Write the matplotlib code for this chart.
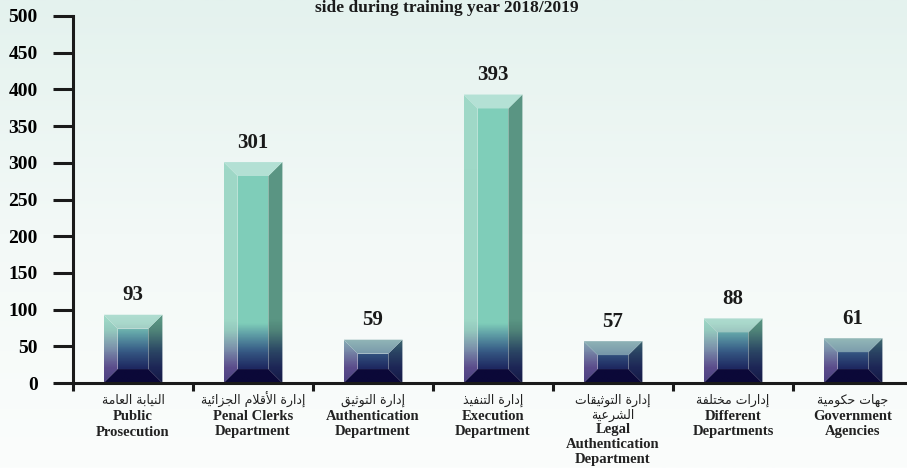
import numpy as np
import matplotlib
matplotlib.use("Agg")
import matplotlib.pyplot as plt
from matplotlib.patches import Polygon
from matplotlib.colors import LinearSegmentedColormap, Normalize

# data
values = [93, 301, 59, 393, 57, 88, 61]
labels_ar = [["النيابة العامة"], ["إدارة الأقلام الجزائية"], ["إدارة التوثيق"], ["إدارة التنفيذ"],
             ["إدارة التوثيقات", "الشرعية"], ["إدارات مختلفة"], ["جهات حكومية"]]
labels_en = [["Public", "Prosecution"], ["Penal Clerks", "Department"], ["Authentication", "Department"],
             ["Execution", "Department"], ["Legal", "Authentication", "Department"],
             ["Different", "Departments"], ["Government", "Agencies"]]
yticks = list(range(0, 501, 50))
title = "side during training year 2018/2019"

SERIF = "Liberation Serif"

# ---- minimal arabic shaping (matplotlib has no complex text layout) ----
BASES = {
    'ء': (0xFE80, 1), 'آ': (0xFE81, 2), 'أ': (0xFE83, 2), 'ؤ': (0xFE85, 2), 'إ': (0xFE87, 2),
    'ئ': (0xFE89, 4), 'ا': (0xFE8D, 2), 'ب': (0xFE8F, 4), 'ة': (0xFE93, 2), 'ت': (0xFE95, 4),
    'ث': (0xFE99, 4), 'ج': (0xFE9D, 4), 'ح': (0xFEA1, 4), 'خ': (0xFEA5, 4), 'د': (0xFEA9, 2),
    'ذ': (0xFEAB, 2), 'ر': (0xFEAD, 2), 'ز': (0xFEAF, 2), 'س': (0xFEB1, 4), 'ش': (0xFEB5, 4),
    'ص': (0xFEB9, 4), 'ض': (0xFEBD, 4), 'ط': (0xFEC1, 4), 'ظ': (0xFEC5, 4), 'ع': (0xFEC9, 4),
    'غ': (0xFECD, 4), 'ف': (0xFED1, 4), 'ق': (0xFED5, 4), 'ك': (0xFED9, 4), 'ل': (0xFEDD, 4),
    'م': (0xFEE1, 4), 'ن': (0xFEE5, 4), 'ه': (0xFEE9, 4), 'و': (0xFEED, 2), 'ى': (0xFEEF, 2),
    'ي': (0xFEF1, 4),
}
LAM_ALEF = {'آ': 0xFEF5, 'أ': 0xFEF7, 'إ': 0xFEF9, 'ا': 0xFEFB}


def shape_ar(text):
    toks = []
    i = 0
    while i < len(text):
        c = text[i]
        if c == 'ل' and i + 1 < len(text) and text[i + 1] in LAM_ALEF:
            toks.append(('LA', LAM_ALEF[text[i + 1]]))
            i += 2
        else:
            toks.append((c, None))
            i += 1

    def nforms(t):
        if t[0] == 'LA':
            return 2
        return BASES[t[0]][1] if t[0] in BASES else 0

    out = []
    for k, t in enumerate(toks):
        nf = nforms(t)
        if nf == 0:
            out.append(t[0])
            continue
        base = t[1] if t[0] == 'LA' else BASES[t[0]][0]
        prev_j = k > 0 and nforms(toks[k - 1]) == 4
        next_j = nf == 4 and k + 1 < len(toks) and nforms(toks[k + 1]) >= 2
        if nf == 1:
            idx = 0
        elif nf == 2:
            idx = 1 if prev_j else 0
        else:
            idx = {(False, False): 0, (True, False): 1, (False, True): 2, (True, True): 3}[(prev_j, next_j)]
        out.append(chr(base + idx))
    return ''.join(reversed(out))


# ---- bevelled gradient bars ----
def ramp(anchors):
    return LinearSegmentedColormap.from_list("r", [(y / 500, c) for y, c in anchors])

cm_front = ramp([(0, '#14124a'), (20, '#1f2a62'), (45, '#3a6189'), (65, '#5f9ea6'), (80, '#7fcdb9'), (500, '#80cfba')])
cm_left = ramp([(0, '#4a3f80'), (20, '#5c4d8c'), (45, '#7a8eaa'), (70, '#94c8bd'), (85, '#9ed7c6'), (500, '#a0d9c8')])
cm_right = ramp([(0, '#141a45'), (20, '#1d2656'), (45, '#2d4a66'), (70, '#4f8378'), (85, '#5a9583'), (500, '#5b9684')])
cm_top = ramp([(0, '#6f8aa0'), (40, '#7a9aab'), (60, '#93b8b8'), (80, '#a9d8cb'), (100, '#b3e0d4'), (500, '#b5e2d6')])
cm_bot = ramp([(0, '#0b0838'), (500, '#0b0838')])
grad = np.linspace(0, 500, 501).reshape(-1, 1)


def face(ax, verts, cmap):
    poly = Polygon(verts, closed=True, facecolor='none', edgecolor='none')
    ax.add_patch(poly)
    xs = [v[0] for v in verts]
    im = ax.imshow(grad, cmap=cmap, norm=Normalize(0, 500), origin='lower', aspect='auto',
                   extent=(min(xs), max(xs), 0, 500), interpolation='bilinear', zorder=2)
    im.set_clip_path(poly)


fig = plt.figure(figsize=(9.07, 4.68), dpi=100)

# background wash
bg = fig.add_axes([0, 0, 1, 1], zorder=-1)
bgcol = LinearSegmentedColormap.from_list("bg", ['#fbfdfc', '#f3f9f7', '#e4f2ee'])
bg.imshow(np.linspace(0, 1, 200).reshape(-1, 1), cmap=bgcol, origin='lower', aspect='auto', extent=(0, 1, 0, 1))
bg.axis('off')

ax = fig.add_axes([73 / 907, 85 / 468, 834 / 907, 367 / 468])
ax.patch.set_alpha(0)

w, bx, by = 0.49, 0.117, 19
for i, h in enumerate(values):
    c = i + 0.5
    x0, x1 = c - w / 2, c + w / 2
    face(ax, [(x0 + bx, by), (x1 - bx, by), (x1 - bx, h - by), (x0 + bx, h - by)], cm_front)
    face(ax, [(x0, 0), (x0 + bx, by), (x0 + bx, h - by), (x0, h)], cm_left)
    face(ax, [(x1, 0), (x1 - bx, by), (x1 - bx, h - by), (x1, h)], cm_right)
    face(ax, [(x0, h), (x1, h), (x1 - bx, h - by), (x0 + bx, h - by)], cm_top)
    face(ax, [(x0, 0), (x1, 0), (x1 - bx, by), (x0 + bx, by)], cm_bot)
    ax.annotate(str(h), (c, h), xytext=(0, 14), textcoords='offset points', ha='center', va='center',
                fontsize=15, fontweight='bold', family=SERIF, color='#1a1a1a')

    # category labels, one line at a time (px below the figure top)
    lines = [(shape_ar(s), 'ar') for s in labels_ar[i]] + [(s, 'en') for s in labels_en[i]]
    step = 15 if len(lines) > 3 else 16
    for k, (s, kind) in enumerate(lines):
        ypx = 400 + step * k
        yax = (383 - ypx) / 367
        if kind == 'ar':
            ax.text(c, yax, s, transform=ax.get_xaxis_transform(), ha='center', va='center',
                    fontsize=9, family='DejaVu Sans', color='#222222')
        else:
            ax.text(c, yax, s, transform=ax.get_xaxis_transform(), ha='center', va='center',
                    fontsize=10.5, fontweight='bold', family=SERIF, color='#222222')

ax.set_xlim(0, 834 / 120)
ax.set_ylim(0, 500)

ax.set_yticks(yticks)
ax.set_yticklabels([str(t) for t in yticks], fontsize=14, fontweight='bold', family=SERIF)
ax.set_xticks(range(7))
ax.set_xticklabels([])
ax.tick_params(axis='y', direction='out', length=14.4, width=2.2, pad=11, color='#1a1a1a')
ax.tick_params(axis='x', direction='out', length=6, width=2.2, color='#1a1a1a')
for s in ['top', 'right']:
    ax.spines[s].set_visible(False)
for s in ['left', 'bottom']:
    ax.spines[s].set_linewidth(2.2)
    ax.spines[s].set_color('#1a1a1a')

fig.text(447 / 907, 1 - 8 / 468, title, ha='center', va='center', fontsize=12.5,
         fontweight='bold', family=SERIF, color='#1a1a1a')

fig.savefig("out.png", dpi=100)
